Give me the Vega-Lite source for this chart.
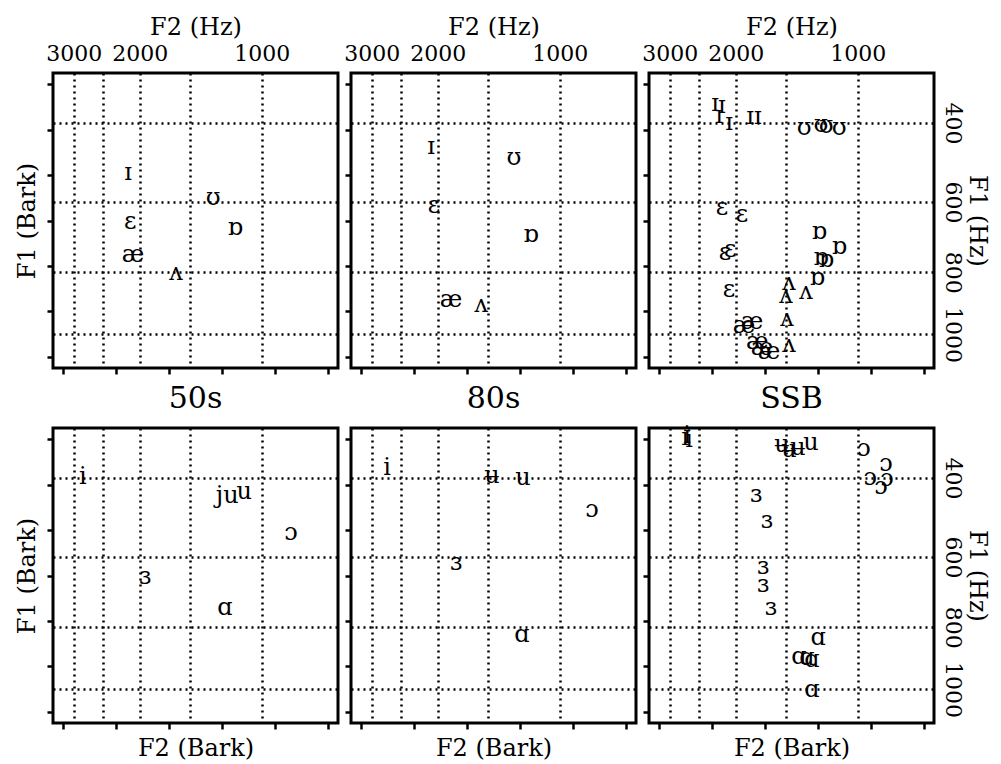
{
  "$schema": "https://vega.github.io/schema/vega-lite/v6.json",
  "background": "white",
  "padding": {"left": 14, "top": 13, "right": 0, "bottom": 0},
  "config": {
    "font": "DejaVu Serif",
    "view": {"stroke": "black", "strokeWidth": 3},
    "axis": {"labelFont": "DejaVu Serif", "titleFont": "DejaVu Serif", "labelColor": "black", "titleColor": "black", "titleFontWeight": "normal", "labelFontSize": 22, "titleFontSize": 24},
    "title": {"font": "DejaVu Serif", "fontSize": 30, "fontWeight": "normal", "color": "black"}
  },
  "data": {"values": [
    {"p": "A50", "v": "ɪ", "f2": 13.55, "f1": 4.95},
    {"p": "A50", "v": "ʊ", "f2": 10.34, "f1": 5.50},
    {"p": "A50", "v": "ɛ", "f2": 13.47, "f1": 6.03},
    {"p": "A50", "v": "ɒ", "f2": 9.51, "f1": 6.16},
    {"p": "A50", "v": "æ", "f2": 13.36, "f1": 6.76},
    {"p": "A50", "v": "ʌ", "f2": 11.74, "f1": 7.16},
    {"p": "A80", "v": "ɪ", "f2": 13.36, "f1": 4.38},
    {"p": "A80", "v": "ʊ", "f2": 10.23, "f1": 4.62},
    {"p": "A80", "v": "ɛ", "f2": 13.25, "f1": 5.68},
    {"p": "A80", "v": "ɒ", "f2": 9.59, "f1": 6.32},
    {"p": "A80", "v": "æ", "f2": 12.61, "f1": 7.75},
    {"p": "A80", "v": "ʌ", "f2": 11.47, "f1": 7.86},
    {"p": "ASSB", "v": "ɪ", "f2": 13.89, "f1": 3.43},
    {"p": "ASSB", "v": "ɪ", "f2": 13.63, "f1": 3.48},
    {"p": "ASSB", "v": "ɪ", "f2": 13.74, "f1": 3.70},
    {"p": "ASSB", "v": "ɪ", "f2": 13.36, "f1": 3.85},
    {"p": "ASSB", "v": "ɪ", "f2": 12.57, "f1": 3.72},
    {"p": "ASSB", "v": "ɪ", "f2": 12.27, "f1": 3.72},
    {"p": "ASSB", "v": "ʊ", "f2": 10.53, "f1": 3.96},
    {"p": "ASSB", "v": "ʊ", "f2": 9.89, "f1": 3.90},
    {"p": "ASSB", "v": "ʊ", "f2": 9.70, "f1": 3.92},
    {"p": "ASSB", "v": "ʊ", "f2": 9.21, "f1": 3.96},
    {"p": "ASSB", "v": "ɛ", "f2": 13.63, "f1": 5.72},
    {"p": "ASSB", "v": "ɛ", "f2": 12.87, "f1": 5.88},
    {"p": "ASSB", "v": "ɛ", "f2": 13.51, "f1": 6.71},
    {"p": "ASSB", "v": "ɛ", "f2": 13.32, "f1": 6.65},
    {"p": "ASSB", "v": "ɛ", "f2": 13.36, "f1": 7.53},
    {"p": "ASSB", "v": "ɒ", "f2": 9.96, "f1": 6.25},
    {"p": "ASSB", "v": "ɒ", "f2": 9.21, "f1": 6.58},
    {"p": "ASSB", "v": "ɒ", "f2": 9.89, "f1": 6.82},
    {"p": "ASSB", "v": "ɒ", "f2": 9.70, "f1": 6.87},
    {"p": "ASSB", "v": "ɒ", "f2": 10.04, "f1": 7.27},
    {"p": "ASSB", "v": "ʌ", "f2": 11.10, "f1": 7.38},
    {"p": "ASSB", "v": "ʌ", "f2": 10.46, "f1": 7.57},
    {"p": "ASSB", "v": "ʌ", "f2": 11.21, "f1": 7.66},
    {"p": "ASSB", "v": "ʌ", "f2": 11.17, "f1": 8.17},
    {"p": "ASSB", "v": "ʌ", "f2": 11.10, "f1": 8.74},
    {"p": "ASSB", "v": "æ", "f2": 12.80, "f1": 8.32},
    {"p": "ASSB", "v": "æ", "f2": 12.49, "f1": 8.23},
    {"p": "ASSB", "v": "æ", "f2": 12.30, "f1": 8.68},
    {"p": "ASSB", "v": "æ", "f2": 12.12, "f1": 8.81},
    {"p": "ASSB", "v": "æ", "f2": 11.85, "f1": 8.90},
    {"p": "B50", "v": "i", "f2": 15.25, "f1": 3.83},
    {"p": "B50", "v": "ju", "f2": 9.81, "f1": 4.25},
    {"p": "B50", "v": "u", "f2": 9.17, "f1": 4.16},
    {"p": "B50", "v": "ɔ", "f2": 7.40, "f1": 5.06},
    {"p": "B50", "v": "ɜ", "f2": 12.91, "f1": 6.03},
    {"p": "B50", "v": "ɑ", "f2": 9.89, "f1": 6.71},
    {"p": "B80", "v": "i", "f2": 15.02, "f1": 3.63},
    {"p": "B80", "v": "ʉ", "f2": 11.06, "f1": 3.81},
    {"p": "B80", "v": "u", "f2": 9.89, "f1": 3.85},
    {"p": "B80", "v": "ɔ", "f2": 7.29, "f1": 4.56},
    {"p": "B80", "v": "ɜ", "f2": 12.42, "f1": 5.72},
    {"p": "B80", "v": "ɑ", "f2": 9.93, "f1": 7.31},
    {"p": "BSSB", "v": "i", "f2": 15.02, "f1": 2.97},
    {"p": "BSSB", "v": "i", "f2": 14.87, "f1": 3.01},
    {"p": "BSSB", "v": "i", "f2": 14.94, "f1": 2.93},
    {"p": "BSSB", "v": "ʉ", "f2": 11.36, "f1": 3.12},
    {"p": "BSSB", "v": "ʉ", "f2": 11.10, "f1": 3.23},
    {"p": "BSSB", "v": "ʉ", "f2": 10.76, "f1": 3.19},
    {"p": "BSSB", "v": "u", "f2": 10.27, "f1": 3.08},
    {"p": "BSSB", "v": "ɔ", "f2": 8.27, "f1": 3.21},
    {"p": "BSSB", "v": "ɔ", "f2": 7.44, "f1": 3.54},
    {"p": "BSSB", "v": "ɔ", "f2": 8.04, "f1": 3.85},
    {"p": "BSSB", "v": "ɔ", "f2": 7.40, "f1": 3.87},
    {"p": "BSSB", "v": "ɔ", "f2": 7.63, "f1": 4.05},
    {"p": "BSSB", "v": "ɜ", "f2": 12.34, "f1": 4.23},
    {"p": "BSSB", "v": "ɜ", "f2": 11.93, "f1": 4.80},
    {"p": "BSSB", "v": "ɜ", "f2": 12.08, "f1": 5.81},
    {"p": "BSSB", "v": "ɜ", "f2": 12.08, "f1": 6.21},
    {"p": "BSSB", "v": "ɜ", "f2": 11.78, "f1": 6.71},
    {"p": "BSSB", "v": "ɑ", "f2": 10.00, "f1": 7.38},
    {"p": "BSSB", "v": "ɑ", "f2": 10.72, "f1": 7.79},
    {"p": "BSSB", "v": "ɑ", "f2": 10.42, "f1": 7.81},
    {"p": "BSSB", "v": "ɑ", "f2": 10.23, "f1": 7.86},
    {"p": "BSSB", "v": "ɑ", "f2": 10.23, "f1": 8.52}
  ]},
  "columns": 3,
  "spacing": {"row": 60, "column": 13},
  "bounds": "flush",
  "concat": [
    {
      "width": 285, "height": 295,
      "title": {"text": "50s", "orient": "bottom", "frame": "group", "baseline": "top", "offset": 9},
      "transform": [{"filter": "datum.p == 'A50'"}],
      "layer": [
        {"mark": {"type": "point", "opacity": 0},
         "encoding": {
           "x": {"field": "f2", "type": "quantitative", "scale": {"domain": [5.63, 16.38], "reverse": true, "nice": false, "zero": false}, "axis": {"orient": "bottom", "values": [6, 8, 10, 12, 14, 16], "labels": false, "tickSize": 6, "tickWidth": 2.5, "tickColor": "black", "domain": false, "grid": false, "title": null}},
           "y": {"field": "f1", "type": "quantitative", "scale": {"domain": [2.75, 9.25], "reverse": true, "nice": false, "zero": false}, "axis": {"orient": "left", "values": [3, 4, 5, 6, 7, 8, 9], "labels": false, "tickSize": 6, "tickWidth": 2.5, "tickColor": "black", "domain": false, "grid": false, "title": "F1 (Bark)", "titlePadding": 6}}
         }},
        {"mark": {"type": "text", "font": "DejaVu Serif", "fontSize": 24, "color": "black"},
         "encoding": {
           "x": {"field": "f2", "type": "quantitative", "scale": {"domain": [5.63, 16.38], "reverse": true, "nice": false, "zero": false}, "axis": {"orient": "top", "values": [15.60, 14.51, 13.11, 11.20, 8.51], "ticks": false, "tickSize": 0, "domain": false, "grid": true, "gridDash": [2, 4], "gridColor": "black", "gridWidth": 2.5, "gridOpacity": 1, "labels": true, "labelExpr": "datum.value > 15 ? '3000' : (datum.value > 13 && datum.value < 13.5) ? '2000' : datum.value < 9 ? '1000' : ''", "labelOverlap": false, "labelFlush": false, "labelPadding": 8, "title": "F2 (Hz)", "titlePadding": 3}},
           "y": {"field": "f1", "type": "quantitative", "scale": {"domain": [2.75, 9.25], "reverse": true, "nice": false, "zero": false}, "axis": {"orient": "right", "values": [3.85, 5.59, 7.14, 8.51], "ticks": false, "tickSize": 0, "domain": false, "grid": true, "gridDash": [2, 4], "gridColor": "black", "gridWidth": 2.5, "gridOpacity": 1, "labels": false, "title": null}},
           "text": {"field": "v"}
         }}
      ],
      "resolve": {"axis": {"x": "independent", "y": "independent"}}
    },
    {
      "width": 285, "height": 295,
      "title": {"text": "80s", "orient": "bottom", "frame": "group", "baseline": "top", "offset": 9},
      "transform": [{"filter": "datum.p == 'A80'"}],
      "layer": [
        {"mark": {"type": "point", "opacity": 0},
         "encoding": {
           "x": {"field": "f2", "type": "quantitative", "scale": {"domain": [5.63, 16.38], "reverse": true, "nice": false, "zero": false}, "axis": {"orient": "bottom", "values": [6, 8, 10, 12, 14, 16], "labels": false, "tickSize": 6, "tickWidth": 2.5, "tickColor": "black", "domain": false, "grid": false, "title": null}},
           "y": {"field": "f1", "type": "quantitative", "scale": {"domain": [2.75, 9.25], "reverse": true, "nice": false, "zero": false}, "axis": {"orient": "left", "values": [3, 4, 5, 6, 7, 8, 9], "labels": false, "tickSize": 6, "tickWidth": 2.5, "tickColor": "black", "domain": false, "grid": false, "title": null}}
         }},
        {"mark": {"type": "text", "font": "DejaVu Serif", "fontSize": 24, "color": "black"},
         "encoding": {
           "x": {"field": "f2", "type": "quantitative", "scale": {"domain": [5.63, 16.38], "reverse": true, "nice": false, "zero": false}, "axis": {"orient": "top", "values": [15.60, 14.51, 13.11, 11.20, 8.51], "ticks": false, "tickSize": 0, "domain": false, "grid": true, "gridDash": [2, 4], "gridColor": "black", "gridWidth": 2.5, "gridOpacity": 1, "labels": true, "labelExpr": "datum.value > 15 ? '3000' : (datum.value > 13 && datum.value < 13.5) ? '2000' : datum.value < 9 ? '1000' : ''", "labelOverlap": false, "labelFlush": false, "labelPadding": 8, "title": "F2 (Hz)", "titlePadding": 3}},
           "y": {"field": "f1", "type": "quantitative", "scale": {"domain": [2.75, 9.25], "reverse": true, "nice": false, "zero": false}, "axis": {"orient": "right", "values": [3.85, 5.59, 7.14, 8.51], "ticks": false, "tickSize": 0, "domain": false, "grid": true, "gridDash": [2, 4], "gridColor": "black", "gridWidth": 2.5, "gridOpacity": 1, "labels": false, "title": null}},
           "text": {"field": "v"}
         }}
      ],
      "resolve": {"axis": {"x": "independent", "y": "independent"}}
    },
    {
      "width": 285, "height": 295,
      "title": {"text": "SSB", "orient": "bottom", "frame": "group", "baseline": "top", "offset": 9},
      "transform": [{"filter": "datum.p == 'ASSB'"}],
      "layer": [
        {"mark": {"type": "point", "opacity": 0},
         "encoding": {
           "x": {"field": "f2", "type": "quantitative", "scale": {"domain": [5.63, 16.38], "reverse": true, "nice": false, "zero": false}, "axis": {"orient": "bottom", "values": [6, 8, 10, 12, 14, 16], "labels": false, "tickSize": 6, "tickWidth": 2.5, "tickColor": "black", "domain": false, "grid": false, "title": null}},
           "y": {"field": "f1", "type": "quantitative", "scale": {"domain": [2.75, 9.25], "reverse": true, "nice": false, "zero": false}, "axis": {"orient": "left", "values": [3, 4, 5, 6, 7, 8, 9], "labels": false, "tickSize": 6, "tickWidth": 2.5, "tickColor": "black", "domain": false, "grid": false, "title": null}}
         }},
        {"mark": {"type": "text", "font": "DejaVu Serif", "fontSize": 24, "color": "black"},
         "encoding": {
           "x": {"field": "f2", "type": "quantitative", "scale": {"domain": [5.63, 16.38], "reverse": true, "nice": false, "zero": false}, "axis": {"orient": "top", "values": [15.60, 14.51, 13.11, 11.20, 8.51], "ticks": false, "tickSize": 0, "domain": false, "grid": true, "gridDash": [2, 4], "gridColor": "black", "gridWidth": 2.5, "gridOpacity": 1, "labels": true, "labelExpr": "datum.value > 15 ? '3000' : (datum.value > 13 && datum.value < 13.5) ? '2000' : datum.value < 9 ? '1000' : ''", "labelOverlap": false, "labelFlush": false, "labelPadding": 8, "title": "F2 (Hz)", "titlePadding": 3}},
           "y": {"field": "f1", "type": "quantitative", "scale": {"domain": [2.75, 9.25], "reverse": true, "nice": false, "zero": false}, "axis": {"orient": "right", "values": [3.85, 5.59, 7.14, 8.51], "ticks": false, "tickSize": 0, "domain": false, "grid": true, "gridDash": [2, 4], "gridColor": "black", "gridWidth": 2.5, "gridOpacity": 1, "labels": true, "labelAngle": 90, "labelExpr": "datum.value < 4 ? '400' : datum.value < 6 ? '600' : datum.value < 8 ? '800' : '1000'", "labelOverlap": false, "labelFlush": false, "labelPadding": 6, "title": "F1 (Hz)", "titleAngle": 90, "titlePadding": 1}},
           "text": {"field": "v"}
         }}
      ],
      "resolve": {"axis": {"x": "independent", "y": "independent"}}
    },
    {
      "width": 285, "height": 295,
      "transform": [{"filter": "datum.p == 'B50'"}],
      "layer": [
        {"mark": {"type": "point", "opacity": 0},
         "encoding": {
           "x": {"field": "f2", "type": "quantitative", "scale": {"domain": [5.63, 16.38], "reverse": true, "nice": false, "zero": false}, "axis": {"orient": "bottom", "values": [6, 8, 10, 12, 14, 16], "labels": false, "tickSize": 6, "tickWidth": 2.5, "tickColor": "black", "domain": false, "grid": false, "title": "F2 (Bark)", "titlePadding": 6}},
           "y": {"field": "f1", "type": "quantitative", "scale": {"domain": [2.75, 9.25], "reverse": true, "nice": false, "zero": false}, "axis": {"orient": "left", "values": [3, 4, 5, 6, 7, 8, 9], "labels": false, "tickSize": 6, "tickWidth": 2.5, "tickColor": "black", "domain": false, "grid": false, "title": "F1 (Bark)", "titlePadding": 6}}
         }},
        {"mark": {"type": "text", "font": "DejaVu Serif", "fontSize": 24, "color": "black"},
         "encoding": {
           "x": {"field": "f2", "type": "quantitative", "scale": {"domain": [5.63, 16.38], "reverse": true, "nice": false, "zero": false}, "axis": {"orient": "top", "values": [15.60, 14.51, 13.11, 11.20, 8.51], "ticks": false, "tickSize": 0, "domain": false, "grid": true, "gridDash": [2, 4], "gridColor": "black", "gridWidth": 2.5, "gridOpacity": 1, "labels": false, "title": null}},
           "y": {"field": "f1", "type": "quantitative", "scale": {"domain": [2.75, 9.25], "reverse": true, "nice": false, "zero": false}, "axis": {"orient": "right", "values": [3.85, 5.59, 7.14, 8.51], "ticks": false, "tickSize": 0, "domain": false, "grid": true, "gridDash": [2, 4], "gridColor": "black", "gridWidth": 2.5, "gridOpacity": 1, "labels": false, "title": null}},
           "text": {"field": "v"}
         }}
      ],
      "resolve": {"axis": {"x": "independent", "y": "independent"}}
    },
    {
      "width": 285, "height": 295,
      "transform": [{"filter": "datum.p == 'B80'"}],
      "layer": [
        {"mark": {"type": "point", "opacity": 0},
         "encoding": {
           "x": {"field": "f2", "type": "quantitative", "scale": {"domain": [5.63, 16.38], "reverse": true, "nice": false, "zero": false}, "axis": {"orient": "bottom", "values": [6, 8, 10, 12, 14, 16], "labels": false, "tickSize": 6, "tickWidth": 2.5, "tickColor": "black", "domain": false, "grid": false, "title": "F2 (Bark)", "titlePadding": 6}},
           "y": {"field": "f1", "type": "quantitative", "scale": {"domain": [2.75, 9.25], "reverse": true, "nice": false, "zero": false}, "axis": {"orient": "left", "values": [3, 4, 5, 6, 7, 8, 9], "labels": false, "tickSize": 6, "tickWidth": 2.5, "tickColor": "black", "domain": false, "grid": false, "title": null}}
         }},
        {"mark": {"type": "text", "font": "DejaVu Serif", "fontSize": 24, "color": "black"},
         "encoding": {
           "x": {"field": "f2", "type": "quantitative", "scale": {"domain": [5.63, 16.38], "reverse": true, "nice": false, "zero": false}, "axis": {"orient": "top", "values": [15.60, 14.51, 13.11, 11.20, 8.51], "ticks": false, "tickSize": 0, "domain": false, "grid": true, "gridDash": [2, 4], "gridColor": "black", "gridWidth": 2.5, "gridOpacity": 1, "labels": false, "title": null}},
           "y": {"field": "f1", "type": "quantitative", "scale": {"domain": [2.75, 9.25], "reverse": true, "nice": false, "zero": false}, "axis": {"orient": "right", "values": [3.85, 5.59, 7.14, 8.51], "ticks": false, "tickSize": 0, "domain": false, "grid": true, "gridDash": [2, 4], "gridColor": "black", "gridWidth": 2.5, "gridOpacity": 1, "labels": false, "title": null}},
           "text": {"field": "v"}
         }}
      ],
      "resolve": {"axis": {"x": "independent", "y": "independent"}}
    },
    {
      "width": 285, "height": 295,
      "transform": [{"filter": "datum.p == 'BSSB'"}],
      "layer": [
        {"mark": {"type": "point", "opacity": 0},
         "encoding": {
           "x": {"field": "f2", "type": "quantitative", "scale": {"domain": [5.63, 16.38], "reverse": true, "nice": false, "zero": false}, "axis": {"orient": "bottom", "values": [6, 8, 10, 12, 14, 16], "labels": false, "tickSize": 6, "tickWidth": 2.5, "tickColor": "black", "domain": false, "grid": false, "title": "F2 (Bark)", "titlePadding": 6}},
           "y": {"field": "f1", "type": "quantitative", "scale": {"domain": [2.75, 9.25], "reverse": true, "nice": false, "zero": false}, "axis": {"orient": "left", "values": [3, 4, 5, 6, 7, 8, 9], "labels": false, "tickSize": 6, "tickWidth": 2.5, "tickColor": "black", "domain": false, "grid": false, "title": null}}
         }},
        {"mark": {"type": "text", "font": "DejaVu Serif", "fontSize": 24, "color": "black"},
         "encoding": {
           "x": {"field": "f2", "type": "quantitative", "scale": {"domain": [5.63, 16.38], "reverse": true, "nice": false, "zero": false}, "axis": {"orient": "top", "values": [15.60, 14.51, 13.11, 11.20, 8.51], "ticks": false, "tickSize": 0, "domain": false, "grid": true, "gridDash": [2, 4], "gridColor": "black", "gridWidth": 2.5, "gridOpacity": 1, "labels": false, "title": null}},
           "y": {"field": "f1", "type": "quantitative", "scale": {"domain": [2.75, 9.25], "reverse": true, "nice": false, "zero": false}, "axis": {"orient": "right", "values": [3.85, 5.59, 7.14, 8.51], "ticks": false, "tickSize": 0, "domain": false, "grid": true, "gridDash": [2, 4], "gridColor": "black", "gridWidth": 2.5, "gridOpacity": 1, "labels": true, "labelAngle": 90, "labelExpr": "datum.value < 4 ? '400' : datum.value < 6 ? '600' : datum.value < 8 ? '800' : '1000'", "labelOverlap": false, "labelFlush": false, "labelPadding": 6, "title": "F1 (Hz)", "titleAngle": 90, "titlePadding": 1}},
           "text": {"field": "v"}
         }}
      ],
      "resolve": {"axis": {"x": "independent", "y": "independent"}}
    }
  ]
}
